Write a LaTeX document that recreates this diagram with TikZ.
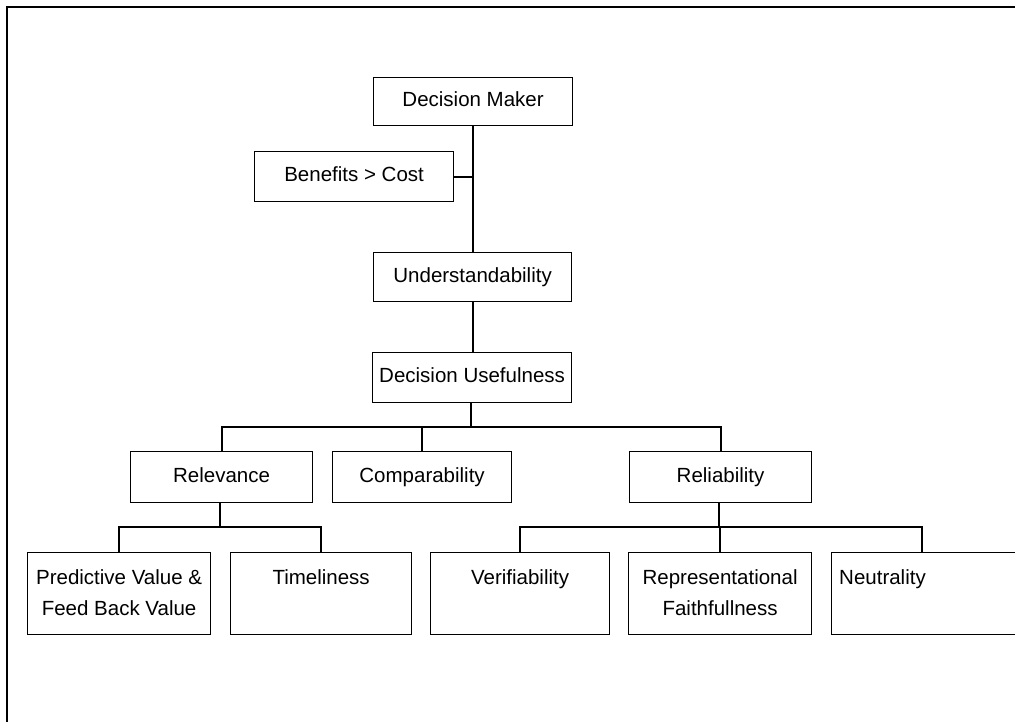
\documentclass[tikz,border=0pt]{standalone}
\usepackage{fontspec}
\setmainfont{Liberation Sans}
\begin{document}
\begin{tikzpicture}[x=1pt,y=-1pt,
  box/.style={draw=black,line width=1.2pt,rectangle,inner sep=0pt,anchor=north west,
    text height=14.5pt,text depth=4pt,font=\fontsize{20.5}{31}\selectfont},
  lbl/.style={inner sep=0pt,align=center,font=\fontsize{20.5}{31}\selectfont},
  conn/.style={draw=black,line width=1.9pt},
  frame/.style={draw=black,line width=1.8pt}]
\useasboundingbox (0,0) rectangle (1015,722);
\draw[frame] (7,722) -- (7,7) -- (1015,7);
% top chain
\node[box,minimum width=199,minimum height=48] (dm) at (373,77) {Decision Maker};
\node[box,minimum width=199,minimum height=50] (bc) at (254,151) {Benefits > Cost};
\node[box,minimum width=198,minimum height=49] (und) at (373,252) {Understandability};
\node[box,minimum width=199,minimum height=50] (du) at (372,352) {Decision Usefulness};
% second level
\node[box,minimum width=182,minimum height=51] (rel) at (130,451) {Relevance};
\node[box,minimum width=179,minimum height=51] (comp) at (332,451) {Comparability};
\node[box,minimum width=182,minimum height=51] (reli) at (629,451) {Reliability};
% third level
\node[box,minimum width=183,minimum height=82] (pv) at (27,552) {};
\node[box,minimum width=181,minimum height=82] (tim) at (230,552) {};
\node[box,minimum width=179,minimum height=82] (ver) at (430,552) {};
\node[box,minimum width=183,minimum height=82] (rep) at (628,552) {};
\node[box,minimum width=195,minimum height=82] (neu) at (831,552) {};
\node[lbl,anchor=north] (tpv) at ([yshift=-17.5]pv.north) {Predictive Value \&\\Feed Back Value};
\node[lbl,anchor=north] (ttim) at ([yshift=-17.5]tim.north) {Timeliness};
\node[lbl,anchor=north] (tver) at ([yshift=-17.5]ver.north) {Verifiability};
\node[lbl,anchor=north] (trep) at ([yshift=-17.5]rep.north) {Representational\\Faithfullness};
\node[lbl,anchor=north west] (tneu) at ([xshift=8,yshift=-17.5]neu.north west) {Neutrality};
% connectors
\coordinate (j1) at (471,427);
\coordinate (j2) at (220,527);
\coordinate (j3) at (719,527);
\coordinate (j4) at (922,527);
\draw[conn] (dm.south) -- (dm.south |- und.north);
\draw[conn] (bc.east) -- (bc.east -| dm.south);
\draw[conn] (und.south) -- (und.south |- du.north);
\draw[conn] (j1 |- du.south) -- (j1);
\draw[conn] (rel.north) -- (rel.north |- j1) -- (reli.north |- j1) -- (reli.north);
\draw[conn] (comp.north) -- (comp.north |- j1);
\draw[conn] (j2 |- rel.south) -- (j2);
\draw[conn] (pv.north) -- (pv.north |- j2) -- (tim.north |- j2) -- (tim.north);
\draw[conn] (j3 |- reli.south) -- (j3);
\draw[conn] (ver.north) -- (ver.north |- j3) -- (j4) -- (j4 |- neu.north);
\draw[conn] (rep.north) -- (rep.north |- j3);
\end{tikzpicture}
\end{document}
